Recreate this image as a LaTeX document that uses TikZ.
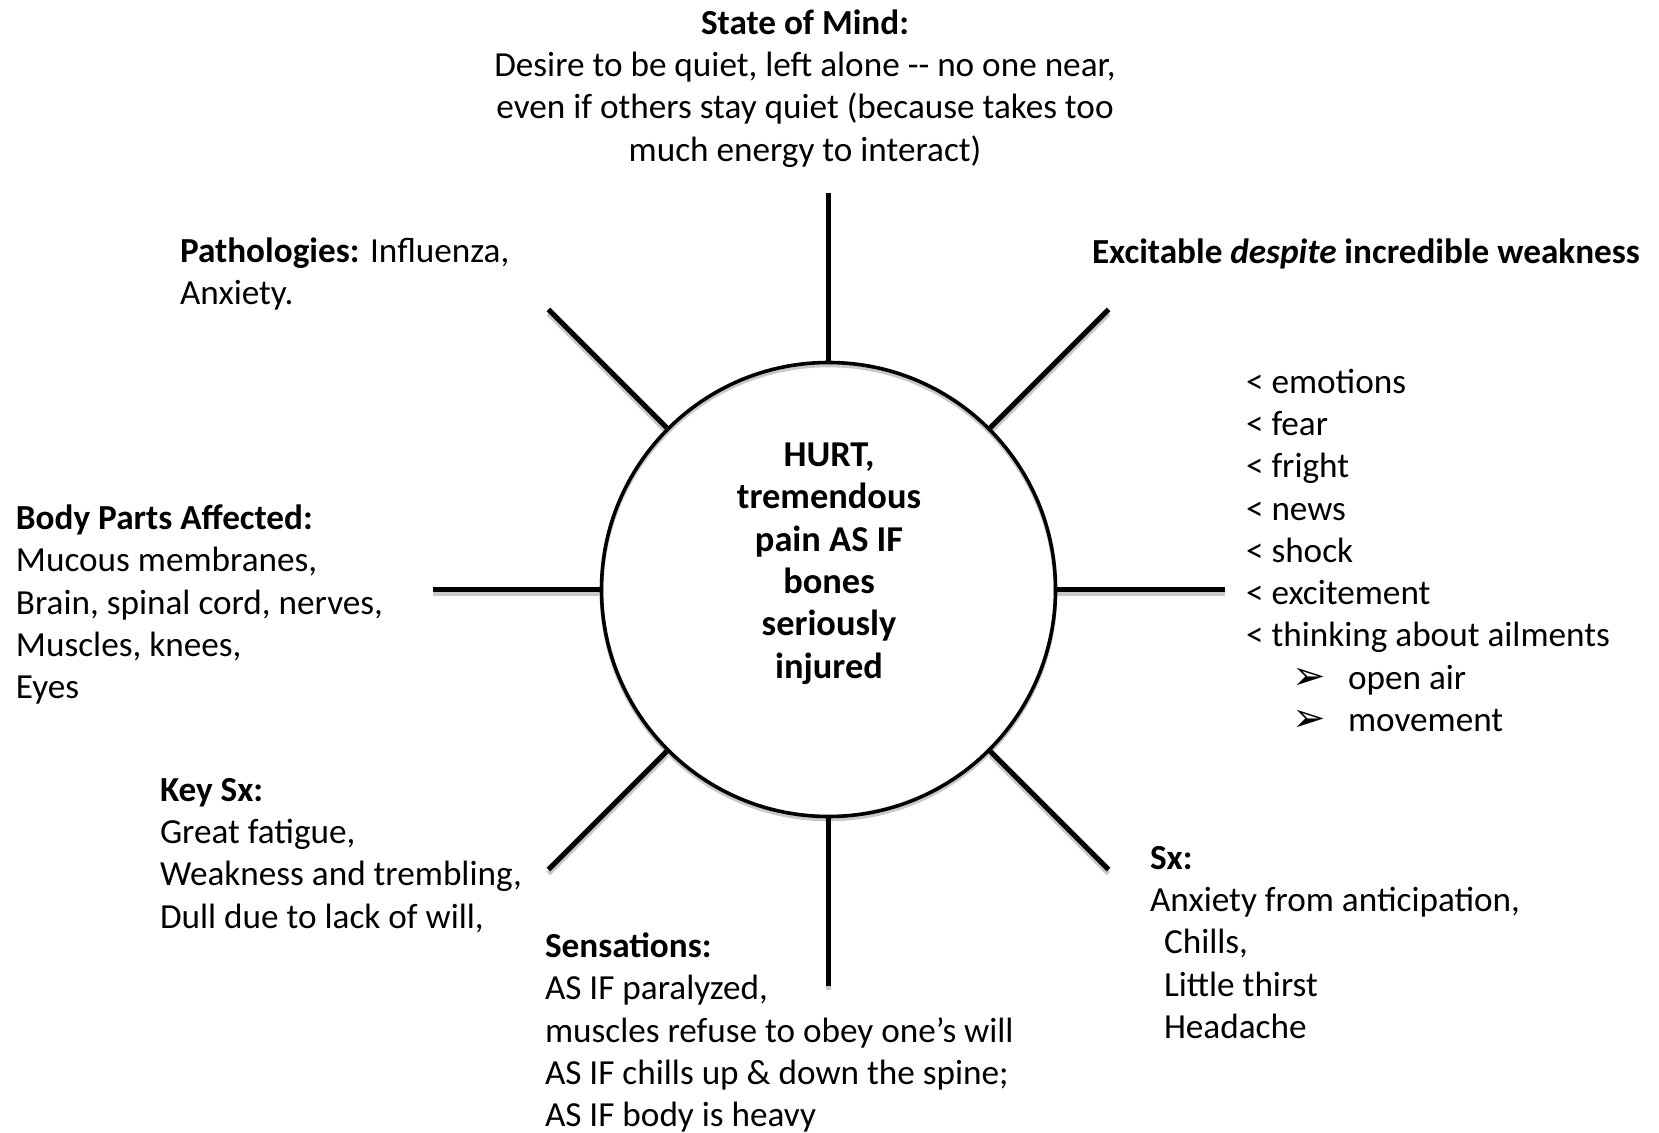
\documentclass[tikz,border=0pt]{standalone}
\usepackage{fontspec}
\setmainfont{Carlito}
\newfontfamily\dingfont{DejaVu Sans}
\usetikzlibrary{calc,backgrounds}
\definecolor{shadowgray}{RGB}{200,200,200}
\tikzset{
  txt/.style={inner sep=0pt, outer sep=0pt, align=left, anchor=north west,
    font=\fontsize{17.6}{21.15}\selectfont},
  ctxt/.style={txt, align=center, anchor=north},
  spoke/.style={line width=2.5pt, black},
  spokeshadow/.style={line width=2.5pt, shadowgray},
  hub/.style={circle, draw=black, line width=1.8pt, minimum size=227pt, inner sep=0pt},
}
\newcommand{\arrbullet}{\hspace*{23pt}\makebox[28pt][l]{\dingfont\fontsize{20}{16}\selectfont ➢}}
\begin{document}
\begin{tikzpicture}[x=0.5pt,y=-0.5pt]
\useasboundingbox (0,0) rectangle (1659,1133);
% hub
\node[hub] (c) at (828.5,589.5) {};
\node[ctxt, font=\fontsize{18.2}{21.15}\selectfont\bfseries] (core) at (829,437)
  {\strut HURT,\\tremendous\\pain AS IF\\bones\\seriously\\injured};
% spoke ends
\foreach \a in {0,45,90,135,180,225,270,315}
  \coordinate (o\a) at ($(c.center)+(\a:198pt)$);
% shadows
\begin{pgfonlayer}{background}
\draw[shadowgray, line width=1.8pt] ([yshift=-1.5pt]c.center) circle[radius=113.5pt];
\foreach \a in {0,45,90,135,180,225,270,315}
  \draw[spokeshadow] ([yshift=-2pt]c.\a) -- ([yshift=-2pt]o\a);
\end{pgfonlayer}
% spokes
\draw[spoke] (c.90) -- (o90);
\draw[spoke] (c.45) -- (o45);
\draw[spoke] (c.0) -- (o0);
\draw[spoke] (c.315) -- (o315);
\draw[spoke] (c.270) -- (o270);
\draw[spoke] (c.225) -- (o225);
\draw[spoke] (c.180) -- (o180);
\draw[spoke] (c.135) -- (o135);
% texts
\node[ctxt] (mind) at (805,4.5)
  {\strut\textbf{State of Mind:}\\Desire to be quiet, left alone -{}- no one near,\\even if others stay quiet (because takes too\\much energy to interact)};
\node[txt] (path) at (180,233)
  {\strut\textbf{Pathologies:} Influenza,\\Anxiety.};
\node[txt] (excit) at (1092,234)
  {\strut\textbf{Excitable \textit{despite} incredible weakness}};
\node[txt] (mods) at (1246,363.5)
  {\strut< emotions\\< fear\\< fright\\< news\\< shock\\< excitement\\< thinking about ailments\\
   \arrbullet open air\\
   \arrbullet movement};
\node[txt] (body) at (16,500)
  {\strut\textbf{Body Parts Affected:}\\Mucous membranes,\\Brain, spinal cord, nerves,\\Muscles, knees,\\Eyes};
\node[txt] (key) at (160,771.5)
  {\strut\textbf{Key Sx:}\\Great fatigue,\\Weakness and trembling,\\Dull due to lack of will,};
\node[txt] (sens) at (545,928)
  {\strut\textbf{Sensations:}\\AS IF paralyzed,\\muscles refuse to obey one’s will\\AS IF chills up \& down the spine;\\AS IF body is heavy};
\node[txt] (sx) at (1150,839.5)
  {\strut\textbf{Sx:}\\Anxiety from anticipation,\\\hspace*{7pt}Chills,\\\hspace*{7pt}Little thirst\\\hspace*{7pt}Headache};
\end{tikzpicture}
\end{document}
